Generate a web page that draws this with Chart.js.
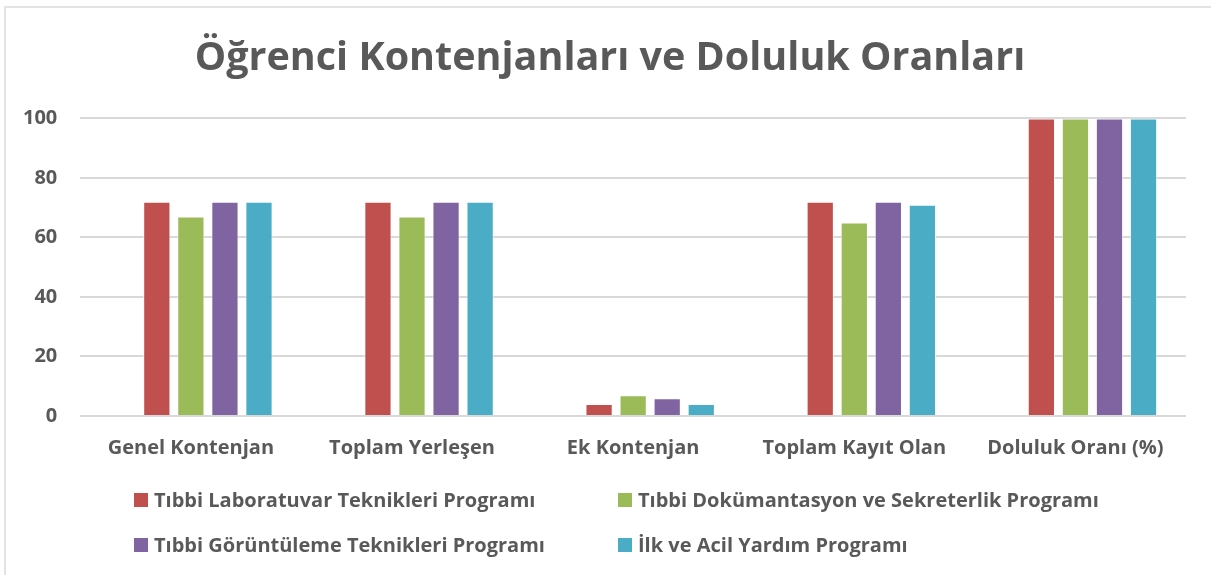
<!DOCTYPE html>
<html>
<head>
<meta charset="utf-8">
<script src="https://cdn.jsdelivr.net/npm/chart.js@4"></script>
<style>
    body { margin: 0; background: #fff; }
    .wrap { position: relative; width: 1211px; height: 575px; overflow: hidden; }
    .frame { position: absolute; left: 4px; top: 6px; right: -10px; bottom: -10px; border-left: 2px solid #e3e3e3; border-top: 2px solid #e3e3e3; }
    canvas { position: absolute; left: 0; top: 0; }
    .legend { position: absolute; left: 0; top: 0; font-family: "Open Sans", sans-serif; font-weight: bold; font-size: 20px; color: #595959; }
    .legend .item { position: absolute; white-space: nowrap; display: flex; align-items: center; height: 28px; line-height: 28px; }
    .legend .box { width: 14px; height: 14px; margin-right: 6px; }
</style>
</head>
<body>
<div class="wrap">
    <div class="frame"></div>
    <canvas id="chart" width="1211" height="575"></canvas>
    <div class="legend" id="legend"></div>
</div>
<script>
// Data
const categories = ["Genel Kontenjan", "Toplam Yerleşen", "Ek Kontenjan", "Toplam Kayıt Olan", "Doluluk Oranı (%)"];
const seriesNames = [
    "Tıbbi Laboratuvar Teknikleri Programı",
    "Tıbbi Dokümantasyon ve Sekreterlik Programı",
    "Tıbbi Görüntüleme Teknikleri Programı",
    "İlk ve Acil Yardım Programı"
];
// the source sheet has an empty first series, which leaves a gap before each group
const emptySeries = [null, null, null, null, null];
const laboratuvar = [72, 72, 4, 72, 100];
const dokumantasyon = [67, 67, 7, 65, 100];
const goruntuleme = [72, 72, 6, 72, 100];
const acilYardim = [72, 72, 4, 71, 100];
const colors = ["#c0504d", "#9bbb59", "#8064a2", "#4bacc6"];

const textColor = "#595959";
const fontFamily = "'Open Sans', sans-serif";

// Chart
let values = [laboratuvar, dokumantasyon, goruntuleme, acilYardim];
let datasets = values.map((v, i) => ({
    label: seriesNames[i],
    data: v,
    backgroundColor: colors[i],
    borderColor: "rgba(255,255,255,0.6)",
    borderWidth: 1,
    barPercentage: 0.8,
    categoryPercentage: 0.77
}));
datasets.unshift({
    label: "",
    data: emptySeries,
    backgroundColor: "transparent",
    barPercentage: 0.8,
    categoryPercentage: 0.77
});

// title is centred on the plot, not on the whole canvas
const titleShift = {
    id: "titleShift",
    afterLayout: (chart) => {
        if (chart.titleBlock) chart.titleBlock.left = 34;
    }
};

new Chart(document.querySelector("#chart"), {
    type: "bar",
    data: { labels: categories, datasets: datasets },
    plugins: [titleShift],
    options: {
        responsive: false,
        animation: false,
        layout: { padding: { left: 0, right: 25, top: 0, bottom: 103 } },
        plugins: {
            legend: { display: false },
            tooltip: { enabled: false },
            title: {
                display: true,
                text: "Öğrenci Kontenjanları ve Doluluk Oranları",
                color: textColor,
                font: { family: fontFamily, size: 39.5, weight: "bold" },
                padding: { top: 35, bottom: 36 }
            }
        },
        scales: {
            x: {
                grid: { display: false },
                border: { display: false },
                ticks: { color: textColor, padding: 12, font: { family: fontFamily, size: 20, weight: "bold" } }
            },
            y: {
                min: 0,
                max: 100,
                ticks: { stepSize: 20, color: textColor, padding: 23, font: { family: fontFamily, size: 20, weight: "bold" } },
                grid: { color: "#d9d9d9", lineWidth: 2, drawTicks: false },
                border: { display: false }
            }
        }
    }
});

// Legend
let legendElement = document.querySelector("#legend");
const legendPos = [[134, 500], [618, 500], [134, 545], [618, 545]];
seriesNames.forEach((name, i) => {
    let item = document.createElement("div");
    item.className = "item";
    item.style.left = legendPos[i][0] + "px";
    item.style.top = (legendPos[i][1] - 14) + "px";
    item.innerHTML = `<span class="box" style="background:${colors[i]}"></span><span>${name}</span>`;
    legendElement.appendChild(item);
});
</script>
</body>
</html>
